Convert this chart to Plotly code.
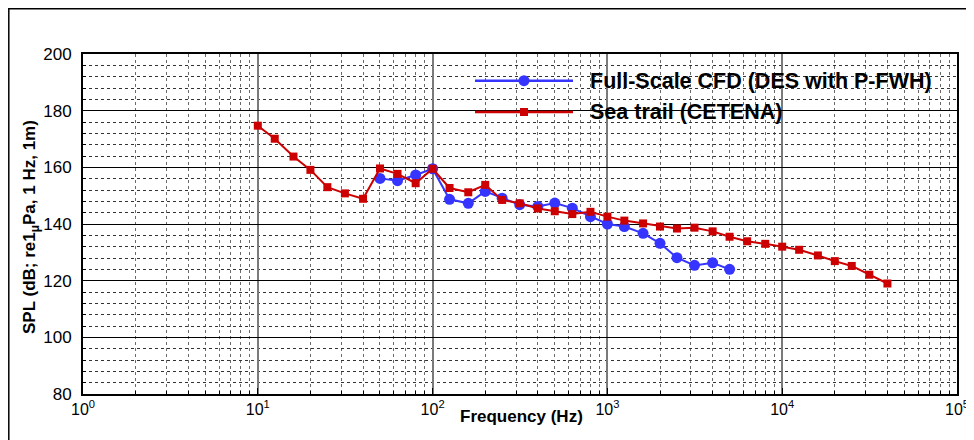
import plotly.graph_objects as go

# ---- data ----
sea_freq = [10, 12.5, 16, 20, 25, 31.5, 40, 50, 63, 80, 100, 125, 160, 200, 250, 315, 400,
            500, 630, 800, 1000, 1250, 1600, 2000, 2500, 3150, 4000, 5000, 6300, 8000,
            10000, 12500, 16000, 20000, 25000, 31500, 40000]
sea_spl = [174.7, 170.1, 163.8, 159.1, 153.0, 150.8, 148.9, 159.6, 157.7, 154.4, 159.5, 152.7,
           151.2, 153.8, 148.5, 147.3, 145.5, 144.5, 143.5, 144.3, 142.6, 141.2, 140.2, 139.1,
           138.4, 138.7, 137.4, 135.5, 133.9, 133.0, 132.0, 130.9, 128.9, 126.9, 125.2, 122.1, 119.0]

cfd_freq = [50, 63, 80, 100, 125, 160, 200, 250, 315, 400, 500, 630, 800, 1000, 1250, 1600,
            2000, 2500, 3150, 4000, 5000]
cfd_spl = [156.1, 155.3, 157.3, 159.5, 148.7, 147.3, 151.5, 149.1, 146.8, 146.2, 147.4, 145.6,
           142.6, 140.0, 139.1, 136.7, 133.2, 128.1, 125.4, 126.3, 124.0]

x_tickvals = [1, 10, 100, 1000, 10000, 100000]
x_ticktext = ["10<sup>0</sup>", "10<sup>1</sup>", "10<sup>2</sup>", "10<sup>3</sup>",
              "10<sup>4</sup>", "10<sup>5</sup>"]
legend_names = ["Full-Scale CFD (DES with P-FWH)", "Sea trail (CETENA)"]
x_title = "Frequency (Hz)"
y_title = "SPL (dB; re1<sub>μ</sub>Pa, 1 Hz, 1m)"

BLUE = "#3535ff"
RED = "#cc0000"
FONT = "Liberation Sans, Arial, sans-serif"

fig = go.Figure()
fig.add_trace(go.Scatter(x=cfd_freq, y=cfd_spl, mode="lines+markers", name=legend_names[0],
                         line=dict(color=BLUE, width=2),
                         marker=dict(symbol="circle", size=11, color=BLUE),
                         showlegend=False))
fig.add_trace(go.Scatter(x=sea_freq, y=sea_spl, mode="lines+markers", name=legend_names[1],
                         line=dict(color=RED, width=2),
                         marker=dict(symbol="square", size=8, color=RED),
                         showlegend=False))

minor_x = [m * 10 ** d for d in range(0, 5) for m in range(2, 10)]

# page has an 8px body margin: figure coords = page coords - 8
FW, FH = 966, 432
OFF = 8
L, R, T, B = 83 - OFF, 957 - OFF, 54 - OFF, 394 - OFF
W, H = R - L, B - T
def px(x):
    return (x - OFF - L) / W
def py(y):
    return (B - (y - OFF)) / H

shapes = []
annotations = []
# manual legend
for i, (yy, col) in enumerate([(80.7, BLUE), (112, RED)]):
    shapes.append(dict(type="line", xref="paper", yref="paper", x0=px(475), x1=px(573),
                       y0=py(yy), y1=py(yy), line=dict(color=col, width=2.5), layer="above"))
    if i == 0:
        shapes.append(dict(type="circle", xref="paper", yref="paper", xsizemode="pixel",
                           ysizemode="pixel", xanchor=px(524), yanchor=py(yy),
                           x0=-5.5, x1=5.5, y0=-5.5, y1=5.5,
                           fillcolor=col, line=dict(color=col, width=0), layer="above"))
    else:
        shapes.append(dict(type="rect", xref="paper", yref="paper", xsizemode="pixel",
                           ysizemode="pixel", xanchor=px(524), yanchor=py(yy),
                           x0=-4, x1=4, y0=-4, y1=4,
                           fillcolor=col, line=dict(color=col, width=0), layer="above"))
    annotations.append(dict(text=legend_names[i], xref="paper", yref="paper", x=px(588),
                            y=py(yy), xanchor="left", yanchor="middle", showarrow=False,
                            font=dict(family=FONT, size=21.5, color="black", weight="bold")))

# axis titles
annotations.append(dict(text=x_title, xref="paper", yref="paper", x=px(521), y=py(416),
                        xanchor="center", yanchor="middle", showarrow=False,
                        font=dict(family=FONT, size=17, color="black", weight="bold")))
annotations.append(dict(text=y_title, xref="paper", yref="paper", x=px(31), y=py(227),
                        xanchor="center", yanchor="middle", showarrow=False, textangle=-90,
                        font=dict(family=FONT, size=17, color="black", weight="bold")))

# outer frame (left and top)
shapes.append(dict(type="line", xref="paper", yref="paper", x0=px(8.8), x1=px(8.8),
                   y0=py(7.8), y1=py(450), line=dict(color="black", width=1.5)))
shapes.append(dict(type="line", xref="paper", yref="paper", x0=px(8.8), x1=px(990),
                   y0=py(8.8), y1=py(8.8), line=dict(color="black", width=1.5)))

fig.update_layout(
    width=FW, height=FH,
    margin=dict(l=L, r=FW - R, t=T, b=FH - B),
    paper_bgcolor="white", plot_bgcolor="white",
    font=dict(family=FONT, color="black"),
    shapes=shapes, annotations=annotations,
    xaxis=dict(type="log", range=[0, 5], tickvals=x_tickvals, ticktext=x_ticktext,
               tickfont=dict(size=16), showgrid=True, gridcolor="#7a7a7a", gridwidth=2,
               ticks="inside", ticklen=6, tickcolor="black", automargin=False,
               showline=True, linecolor="black", linewidth=2, mirror=True,
               minor=dict(tickvals=minor_x, showgrid=True, gridcolor="#6a6a6a",
                          griddash="dot", gridwidth=1, ticks="inside", ticklen=3,
                          tickcolor="black"),
               zeroline=False),
    yaxis=dict(range=[80, 200], dtick=20, tickfont=dict(size=17), automargin=False,
               showgrid=True, gridcolor="black", gridwidth=1, ticklabelstandoff=6,
               ticks="inside", ticklen=6, tickcolor="black",
               showline=True, linecolor="black", linewidth=2, mirror=True,
               minor=dict(dtick=4, showgrid=True, gridcolor="#333333", griddash="dot",
                          gridwidth=1, ticks="inside", ticklen=3, tickcolor="black"),
               zeroline=False),
)

fig.write_html("out.html")
